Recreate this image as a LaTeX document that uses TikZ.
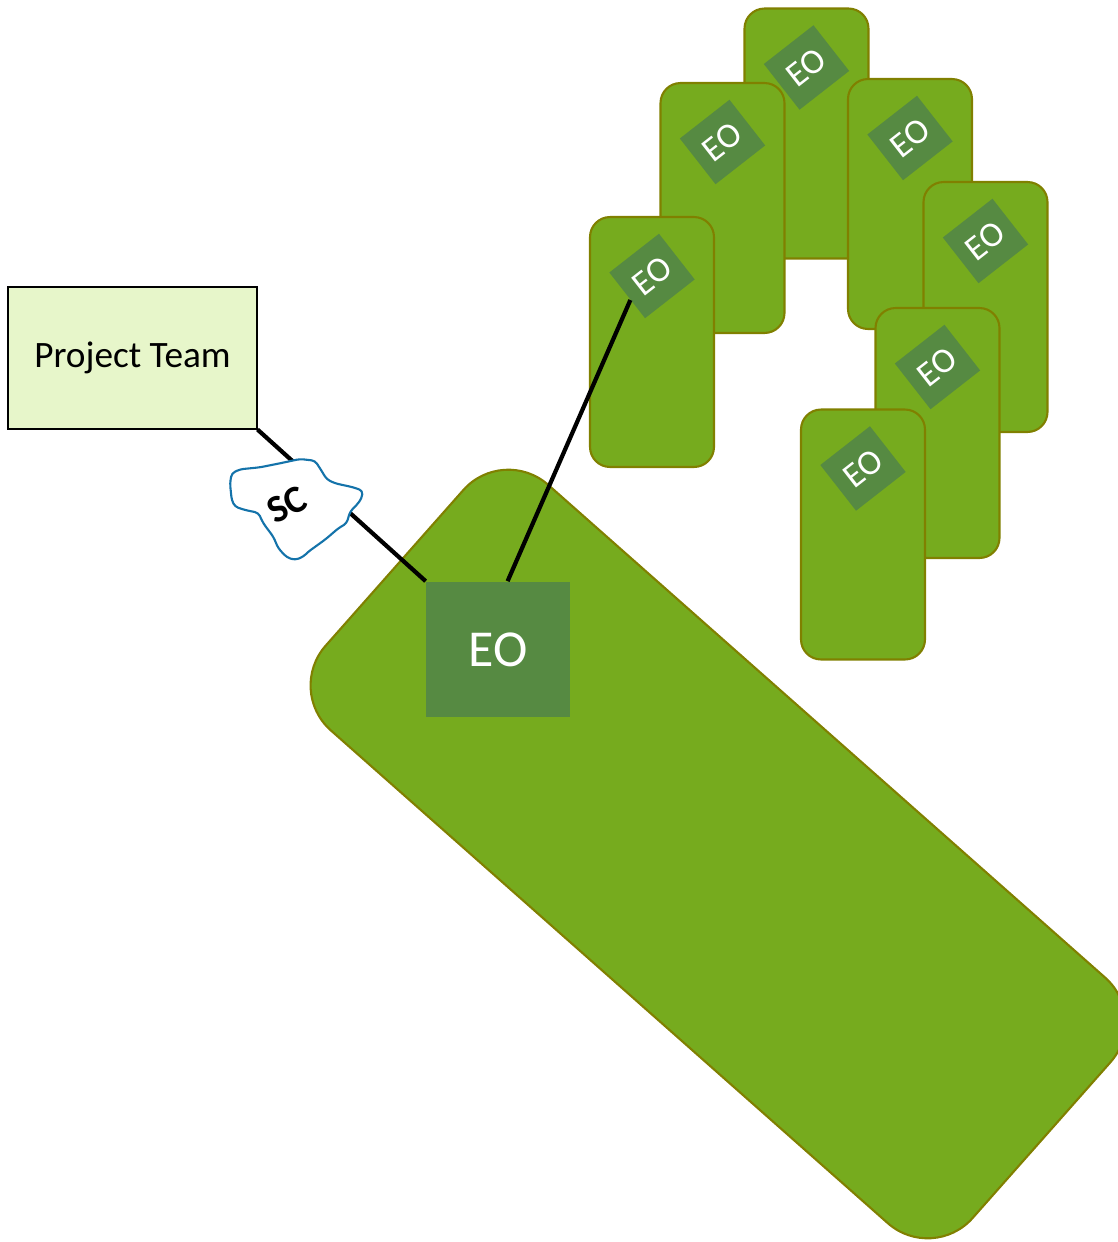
\documentclass[tikz,border=0pt]{standalone}
\usepackage{fontspec}
\setmainfont{Carlito}
\usetikzlibrary{calc, positioning, shapes, decorations.pathmorphing}
\definecolor{leaf}{RGB}{118,171,30}
\definecolor{cardedge}{RGB}{128,128,0}
\definecolor{eogreen}{RGB}{86,138,66}
\definecolor{teamfill}{RGB}{231,246,202}
\definecolor{scblue}{RGB}{20,115,170}

\begin{document}
\begin{tikzpicture}[x=0.02cm, y=-0.02cm,
  card/.style={draw=cardedge, line width=1.2pt, fill=leaf, rounded corners=0.4cm, minimum width=2.48cm, minimum height=5cm, inner sep=0pt},
  eo/.style={fill=eogreen, text=white, minimum width=1.26cm, minimum height=1.16cm, inner sep=0pt, rotate=38, font=\fontsize{20}{20}\selectfont},
  eobig/.style={fill=eogreen, text=white, minimum width=2.88cm, minimum height=2.72cm, inner sep=0pt, font=\fontsize{29.5}{29.5}\selectfont},
  team/.style={draw=black, line width=0.6pt, fill=teamfill, minimum width=4.98cm, minimum height=2.84cm, font=\fontsize{21.2}{24}\selectfont},
  link/.style={draw=black, line width=2.4pt},
  cloudline/.style={draw=scblue, line width=1.2pt, fill=white, rounded corners=2pt}]
  \path[use as bounding box, fill=white] (0,0) rectangle (1118,1242);

  \node[card, minimum width=17.28cm, minimum height=6.56cm, rounded corners=1.2cm, rotate=-41.5] (base) at (718,854) {};
  \node[eobig] (eoB) at (498,649.5) {EO};

  \foreach \n/\x/\y in {1/806.5/133.5, 2/722.5/208, 3/910/204, 4/985.5/307, 5/652/342, 6/937.5/433, 7/863/534.5}{
    \node[card] (c\n) at (\x,\y) {};
    \node[eo] (eo\n) at ($(c\n.north)+(0,60)$) {EO};
  }

  \node[team] (team) at (132.5,358) {Project Team};

  \draw[link] (team.south east) -- (eoB.north west);
  \draw[link] (eo5.190) -- (eoB.82);

  \draw[cloudline] (231.7,473.3) -- (240,469.3) -- (260,467.3) -- (280,463.3) -- (300,459) -- (315,460.7) -- (320,468.3) -- (326.7,479.3) -- (335,483.3) -- (353.3,487.3) -- (362.7,490.7) -- (361.7,498.3) -- (356.7,505) -- (350,511.7) -- (346.7,523.3) -- (338.3,528.3) -- (326.7,538.3) -- (320,543.3) -- (308.3,551.7) -- (303.3,556.7) -- (295,560) -- (286.7,557.3) -- (278.3,548.3) -- (273.3,536.7) -- (263.3,523.3) -- (258.3,512.7) -- (245,510) -- (235,506.7) -- (231.7,500) -- (230,483.3) -- cycle;
  \node[rotate=27, font=\bfseries\fontsize{22}{22}\selectfont] (sc) at (287,505) {SC};
\end{tikzpicture}
\end{document}
